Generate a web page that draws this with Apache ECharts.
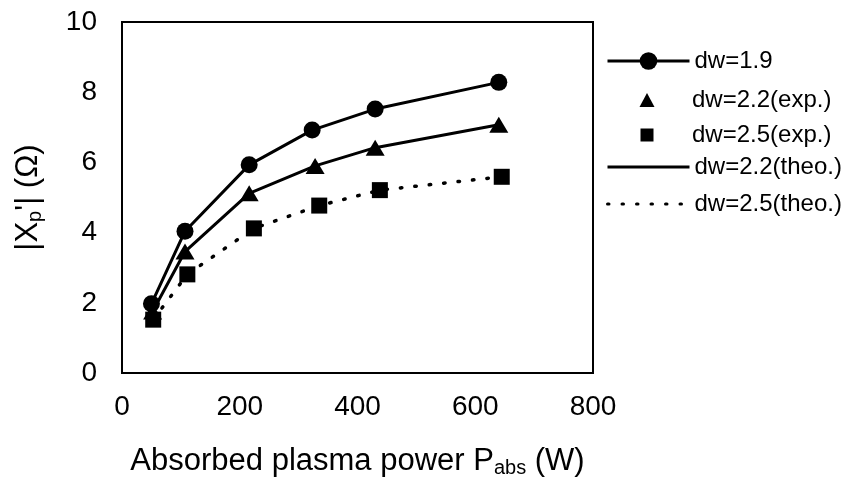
<!DOCTYPE html>
<html>
<head>
<meta charset="utf-8">
<script src="https://cdn.jsdelivr.net/npm/echarts@6/dist/echarts.min.js"></script>
<style>
  html, body { margin: 0; padding: 0; background: #fff; }
  #chart { width: 842px; height: 492px; }
</style>
</head>
<body>
<div id="chart"></div>
<script>
// Absorbed plasma power (W) at each measurement
var powerDw19 = [50, 107, 216, 323, 430, 640];
var powerDw22 = [52, 107, 216, 328, 430, 640];
var powerDw25 = [53, 111, 224, 335, 438, 645];

// |Xp'| values (Ohm)
var xpDw19 = [1.97, 4.04, 5.93, 6.92, 7.52, 8.28];
var xpDw22Exp = [1.75, 3.46, 5.12, 5.90, 6.42, 7.07];
var xpDw25Exp = [1.52, 2.81, 4.12, 4.77, 5.21, 5.59];
var xpDw22Theo = [1.75, 3.46, 5.12, 5.90, 6.42, 7.07];
var xpDw25Theo = [1.52, 2.81, 4.12, 4.77, 5.21, 5.59];

var xTicks = [0, 200, 400, 600, 800];
var yTicks = [0, 2, 4, 6, 8, 10];

var names = ['dw=1.9', 'dw=2.2(exp.)', 'dw=2.5(exp.)', 'dw=2.2(theo.)', 'dw=2.5(theo.)'];

function pairs(xs, ys) {
  return xs.map(function (x, i) { return [x, ys[i]]; });
}

var FONT = '"Liberation Sans", Arial, Helvetica, sans-serif';
var INK = '#000';
var LEGEND_X = 606, LEGEND_W = 82, TEXT_X = 692;
var LEGEND_FONT = 24;

// Line-type legend row: icon spans the full slot width
function lineRow(name, top, iconH, hideSymbol) {
  var row = {
    data: [name],
    orient: 'vertical',
    left: LEGEND_X,
    top: top,
    padding: 0,
    itemWidth: LEGEND_W,
    itemHeight: iconH,
    selectedMode: false,
    lineStyle: { width: 3 },
    textStyle: { fontFamily: FONT, fontSize: LEGEND_FONT, color: INK }
  };
  if (hideSymbol) row.itemStyle = { opacity: 0 };
  return row;
}

// Marker-only legend row: the marker sits in the middle of the slot
function markerRow(name, top, w, h) {
  var left = LEGEND_X + LEGEND_W / 2 - w / 2;
  var gap = TEXT_X - (left + w + 5);
  return {
    data: [name],
    orient: 'vertical',
    left: left,
    top: top,
    padding: 0,
    itemWidth: w,
    itemHeight: h,
    selectedMode: false,
    formatter: function (n) { return '{sp|}' + n; },
    textStyle: {
      fontFamily: FONT, fontSize: LEGEND_FONT, color: INK,
      rich: { sp: { width: gap } }
    }
  };
}

var chart = echarts.init(document.getElementById('chart'), null, { renderer: 'canvas' });

chart.setOption({
  backgroundColor: '#fff',
  animation: false,
  grid: {
    left: 122, right: 249, top: 22, bottom: 119,
    show: true, borderColor: INK, borderWidth: 2, backgroundColor: 'transparent'
  },
  legend: [
    lineRow(names[0], 49, 22, false),
    markerRow(names[1], 88, 15, 14),
    markerRow(names[2], 123, 13, 13),
    lineRow(names[3], 155, 16, true),
    lineRow(names[4], 192, 16, true)
  ],
  xAxis: {
    type: 'value',
    min: xTicks[0], max: xTicks[xTicks.length - 1], interval: 200,
    axisLine: { show: false },
    axisTick: { show: false },
    splitLine: { show: false },
    axisLabel: { fontFamily: FONT, fontSize: 28, color: INK, margin: 20 },
    name: '{m|Absorbed plasma power P}{s|abs}{m| (W)}',
    nameLocation: 'middle',
    nameGap: 71,
    nameTextStyle: {
      rich: {
        m: { fontFamily: FONT, fontSize: 31, color: INK },
        s: { fontFamily: FONT, fontSize: 20, color: INK, padding: [14, 0, 0, 0] }
      }
    }
  },
  yAxis: {
    type: 'value',
    min: yTicks[0], max: yTicks[yTicks.length - 1], interval: 2,
    axisLine: { show: false },
    axisTick: { show: false },
    splitLine: { show: false },
    axisLabel: { fontFamily: FONT, fontSize: 28, color: INK, margin: 25 },
    name: "{m||X}{s|p}{m|'| (Ω)}",
    nameLocation: 'middle',
    nameGap: 77,
    nameRotate: 90,
    nameTextStyle: {
      rich: {
        m: { fontFamily: FONT, fontSize: 31, color: INK },
        s: { fontFamily: FONT, fontSize: 20, color: INK, padding: [14, 0, 0, 0] }
      }
    }
  },
  series: [
    {
      name: names[3], type: 'line', data: pairs(powerDw22, xpDw22Theo),
      symbol: 'none', z: 2,
      lineStyle: { color: INK, width: 3 }, itemStyle: { color: INK }
    },
    {
      name: names[4], type: 'line', data: pairs(powerDw25, xpDw25Theo),
      symbol: 'none', z: 2,
      lineStyle: { color: INK, width: 3.5, type: [1.5, 13], cap: 'round' }, itemStyle: { color: INK }
    },
    {
      name: names[0], type: 'line', data: pairs(powerDw19, xpDw19),
      symbol: 'circle', symbolSize: 17, z: 4,
      lineStyle: { color: INK, width: 3 }, itemStyle: { color: INK, opacity: 1 }
    },
    {
      name: names[1], type: 'scatter', data: pairs(powerDw22, xpDw22Exp),
      symbol: 'triangle', symbolSize: [19, 16], z: 4,
      itemStyle: { color: INK, opacity: 1 }
    },
    {
      name: names[2], type: 'scatter', data: pairs(powerDw25, xpDw25Exp),
      symbol: 'rect', symbolSize: 16, z: 4,
      itemStyle: { color: INK, opacity: 1 }
    }
  ]
});
</script>
</body>
</html>
